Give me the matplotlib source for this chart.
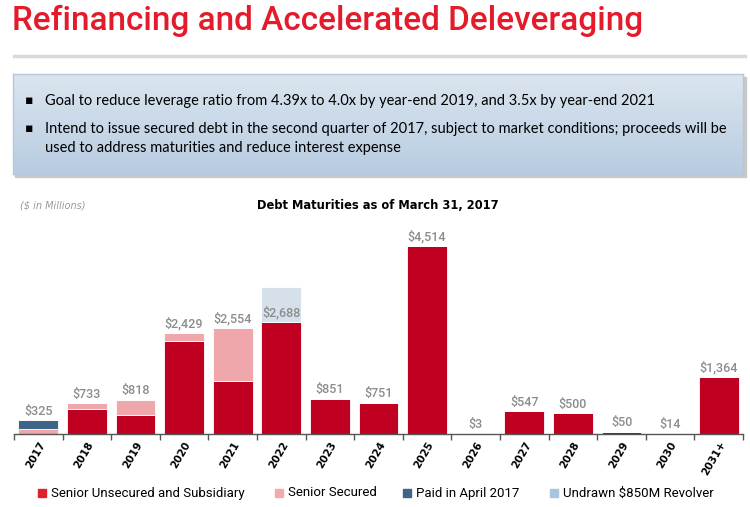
import numpy as np
import matplotlib.pyplot as plt
from matplotlib.patches import Rectangle
from matplotlib.lines import Line2D

years = ["2017", "2018", "2019", "2020", "2021", "2022", "2023", "2024",
         "2025", "2026", "2027", "2028", "2029", "2030", "2031+"]
unsecured = [0, 590, 450, 2240, 1280, 2688, 851, 751, 4514, 3, 547, 500, 50, 14, 1364]
secured = [110, 143, 368, 189, 1274, 0, 0, 0, 0, 0, 0, 0, 0, 0, 0]
paid = [215, 0, 0, 0, 0, 0, 0, 0, 0, 0, 0, 0, 0, 0, 0]
revolver = [0, 0, 0, 0, 0, 850, 0, 0, 0, 0, 0, 0, 0, 0, 0]

legend_labels = ["Senior Unsecured and Subsidiary", "Senior Secured",
                 "Paid in April 2017", "Undrawn $850M Revolver"]
bar_colors = ["#C00020", "#F0A7AB", "#3E6489", "#D5E0EA"]
legend_colors = ["#E0202C", "#F2AAAE", "#3E6489", "#AAC4E0"]

W, H = 750, 507
fig = plt.figure(figsize=(7.5, 5.07), dpi=100)

def fx(px):
    return px / W

def fy(py):
    return 1 - py / H

# header
fig.text(fx(12), fy(21), "Refinancing and Accelerated Deleveraging", color="#E31B2B",
         fontsize=24, va="center", ha="left", fontweight="medium",
         family=["Roboto", "DejaVu Sans"])
fig.add_artist(Line2D([fx(14), fx(745)], [fy(56), fy(56)], color="#D9D9D9", lw=2.5))

# gradient box with shadow
fig.add_artist(Rectangle((fx(15), fy(177)), fx(731), fy(74) - fy(174), color="#C8C8C8",
                         zorder=0))
box = fig.add_axes([fx(13), fy(174), fx(730), fy(74) - fy(174)], zorder=1)
grad = np.linspace(0, 1, 100).reshape(-1, 1)
c_top = np.array([0.86, 0.90, 0.94])
c_bot = np.array([0.72, 0.80, 0.88])
img = c_top + grad[:, :, None] * (c_bot - c_top)
box.imshow(img, aspect="auto", extent=[0, 1, 0, 1])
box.set_xticks([])
box.set_yticks([])
for s in box.spines.values():
    s.set_color("#B4C8DC")
    s.set_linewidth(1)

body_font = ["Lato", "DejaVu Sans"]
bullets = [(101, "Goal to reduce leverage ratio from 4.39x to 4.0x by year-end 2019, and 3.5x by year-end 2021"),
           (129, "Intend to issue secured debt in the second quarter of 2017, subject to market conditions; proceeds will be"),
           (148, "used to address maturities and reduce interest expense")]
for i, (yy, t) in enumerate(bullets):
    if i < 2:
        fig.text(fx(25), fy(yy), "\u25aa", fontsize=9, va="center", ha="left", color="black",
                 zorder=3)
    fig.text(fx(45), fy(yy), t, fontsize=10.5, va="center", ha="left", color="black",
             family=body_font, zorder=3)

# chart
ax = fig.add_axes([fx(14), fy(434), fx(729), fy(215) - fy(434)])
x = np.arange(len(years))
bw = 0.82
u = np.array(unsecured)
s = np.array(secured)
p = np.array(paid)
r = np.array(revolver)
ax.bar(x, u, bw, color=bar_colors[0], edgecolor="white", linewidth=0.6)
ax.bar(x, s, bw, bottom=u, color=bar_colors[1], edgecolor="white", linewidth=0.6)
ax.bar(x, p, bw, bottom=u + s, color=bar_colors[2], edgecolor="white", linewidth=0.6)
ax.bar(x, r, bw, bottom=u + s + p, color=bar_colors[3], edgecolor="white", linewidth=0.6)

totals = u + s + p
for xi, t in zip(x, totals):
    ax.text(xi, t + 60, f"${t:,}", ha="center", va="bottom", fontsize=9,
            color="#8C8C8C", fontweight="medium", family=["Roboto", "DejaVu Sans"])

ax.set_xlim(-0.5, len(years) - 0.5)
ax.set_ylim(0, 5258)
ax.set_yticks([])
for side in ["top", "right", "left"]:
    ax.spines[side].set_visible(False)
ax.spines["bottom"].set_color("#555555")
ax.spines["bottom"].set_linewidth(1)
ax.set_xticks(np.arange(len(years) + 1) - 0.5, minor=False)
ax.set_xticklabels([])
ax.tick_params(axis="x", direction="out", length=4, color="#555555", width=1)
ax.set_xticks(x, minor=True)
ax.set_xticklabels(years, minor=True, rotation=60, fontsize=7.5, fontweight="bold",
                   ha="right", rotation_mode="anchor")
ax.tick_params(axis="x", which="minor", length=0, pad=4)
ax.patch.set_alpha(0)

fig.text(fx(378), fy(205), "Debt Maturities as of March 31, 2017", ha="center", va="center",
         fontsize=8.3, fontweight="bold", color="black")
fig.text(fx(20), fy(205), "($ in Millions)", ha="left", va="center", fontsize=7,
         style="italic", color="#999999")

# legend
leg_x = [38, 275, 403, 550]
for lx, lab, col in zip(leg_x, legend_labels, legend_colors):
    fig.add_artist(Rectangle((fx(lx), fy(497)), fx(8), fy(489) - fy(497), color=col))
    fig.text(fx(lx + 13), fy(493), lab, fontsize=9.5, va="center", ha="left",
             color="black", family=["Roboto", "DejaVu Sans"])

fig.savefig("out.png", dpi=100)
